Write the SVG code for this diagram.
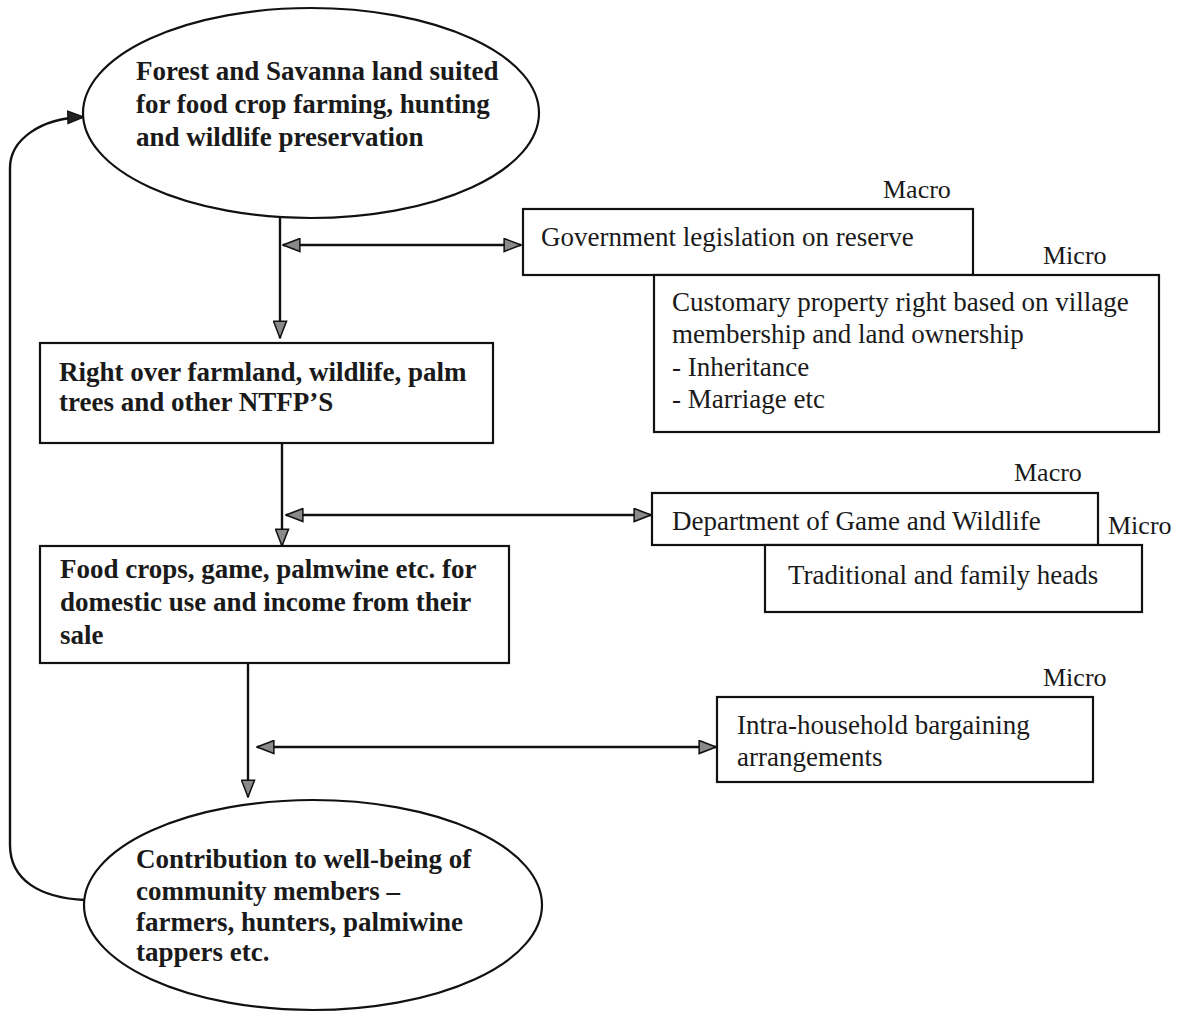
<svg xmlns="http://www.w3.org/2000/svg" width="1190" height="1015" viewBox="0 0 1190 1015">
<style>
.shape{fill:#fff;stroke:#111;stroke-width:2.2}
.conn{fill:none;stroke:#111;stroke-width:2.4}
.b{font-family:"Liberation Serif","Times New Roman",serif;font-weight:bold;font-size:27px;fill:#1a1a1a}
.r{font-family:"Liberation Serif","Times New Roman",serif;font-size:27px;fill:#1a1a1a}
.lbl{font-family:"Liberation Serif","Times New Roman",serif;font-size:26px;fill:#1a1a1a}
</style>
<defs>
<marker id="ah" viewBox="0 0 20 16" refX="19" refY="8" markerWidth="19" markerHeight="15" markerUnits="userSpaceOnUse" orient="auto-start-reverse">
<path d="M1,1 L19,8 L1,15 Z" fill="#8a8a8a" stroke="#111" stroke-width="1.6"/>
</marker>
<marker id="ahd" viewBox="0 0 20 16" refX="19" refY="8" markerWidth="18" markerHeight="15" markerUnits="userSpaceOnUse" orient="auto">
<path d="M1,1 L19,8 L1,15 Z" fill="#222" stroke="#111" stroke-width="1.4"/>
</marker>
</defs>
<rect width="1190" height="1015" fill="#fff"/>

<g id="connectors">
<line class="conn" x1="280" y1="218" x2="280" y2="338" marker-end="url(#ah)"/>
<line class="conn" x1="283" y1="245" x2="521" y2="245" marker-start="url(#ah)" marker-end="url(#ah)"/>
<line class="conn" x1="282" y1="443" x2="282" y2="546" marker-end="url(#ah)"/>
<line class="conn" x1="286" y1="515" x2="651" y2="515" marker-start="url(#ah)" marker-end="url(#ah)"/>
<line class="conn" x1="248" y1="663" x2="248" y2="797" marker-end="url(#ah)"/>
<line class="conn" x1="257" y1="747" x2="716" y2="747" marker-start="url(#ah)" marker-end="url(#ah)"/>
<path class="conn" d="M85,900 C40,898 10,880 10,845 L10,168 C10,140 40,118 84,117" marker-end="url(#ahd)"/>
</g>

<g id="node-forest">
<ellipse class="shape" cx="311" cy="113" rx="228" ry="105"/>
<text class="b" x="136" y="80">Forest and Savanna land suited</text>
<text class="b" x="136" y="113">for food crop farming, hunting</text>
<text class="b" x="136" y="146">and wildlife preservation</text>
</g>

<g id="node-right">
<rect class="shape" x="40" y="343" width="453" height="100"/>
<text class="b" x="59" y="381">Right over farmland, wildlife, palm</text>
<text class="b" x="59" y="411">trees and other NTFP’S</text>
</g>

<g id="node-food">
<rect class="shape" x="40" y="546" width="469" height="117"/>
<text class="b" x="60" y="578">Food crops, game, palmwine etc. for</text>
<text class="b" x="60" y="611">domestic use and income from their</text>
<text class="b" x="60" y="644">sale</text>
</g>

<g id="node-contribution">
<ellipse class="shape" cx="313" cy="905" rx="229" ry="105"/>
<text class="b" x="136" y="868">Contribution to well-being of</text>
<text class="b" x="136" y="900">community members –</text>
<text class="b" x="136" y="931">farmers, hunters, palmiwine</text>
<text class="b" x="136" y="961">tappers etc.</text>
</g>

<g id="node-gov">
<text class="lbl" x="883" y="198">Macro</text>
<rect class="shape" x="523" y="209" width="450" height="66"/>
<text class="r" x="541" y="246">Government legislation on reserve</text>
</g>

<g id="node-customary">
<text class="lbl" x="1043" y="264">Micro</text>
<rect class="shape" x="654" y="275" width="505" height="157"/>
<text class="r" x="672" y="311">Customary property right based on village</text>
<text class="r" x="672" y="343">membership and land ownership</text>
<text class="r" x="672" y="376">- Inheritance</text>
<text class="r" x="672" y="408">- Marriage etc</text>
</g>

<g id="node-dept">
<text class="lbl" x="1014" y="481">Macro</text>
<rect class="shape" x="652" y="493" width="446" height="52"/>
<text class="r" x="672" y="530">Department of Game and Wildlife</text>
<text class="lbl" x="1108" y="534">Micro</text>
</g>

<g id="node-traditional">
<rect class="shape" x="765" y="545" width="377" height="67"/>
<text class="r" x="788" y="584">Traditional and family heads</text>
</g>

<g id="node-intra">
<text class="lbl" x="1043" y="686">Micro</text>
<rect class="shape" x="717" y="697" width="376" height="85"/>
<text class="r" x="737" y="734">Intra-household bargaining</text>
<text class="r" x="737" y="766">arrangements</text>
</g>
</svg>
